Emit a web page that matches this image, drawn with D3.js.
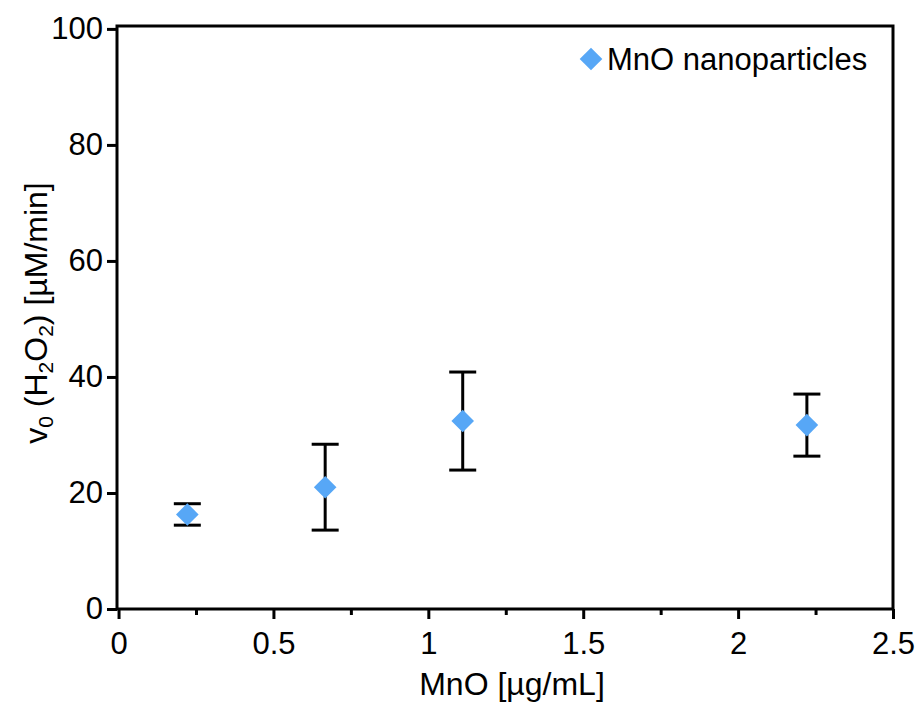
<!DOCTYPE html>
<html>
<head>
<meta charset="utf-8">
<script src="https://cdn.jsdelivr.net/npm/d3@7"></script>
<style>
  html, body { margin: 0; padding: 0; background: #fff; }
  svg { display: block; font-family: "Liberation Sans", Arial, sans-serif; }
</style>
</head>
<body>
<svg id="chart" width="920" height="704"></svg>
<script>
// MnO concentration (µg/mL) and initial H2O2 consumption rate (µM/min)
const concentrations = [0.222, 0.667, 1.111, 2.222];
const rates = [16.3, 21.0, 32.4, 31.7];
const rateErrors = [1.85, 7.4, 8.45, 5.35];
const xTicks = [0, 0.5, 1, 1.5, 2, 2.5];
const xMinorTicks = [0.25, 0.75, 1.25, 1.75, 2.25];
const yTicks = [0, 20, 40, 60, 80, 100];
const seriesName = "MnO nanoparticles";

const W = 920, H = 704;
const plot = { left: 117, right: 893, top: 26, bottom: 609 };
const markerColor = "#57a7f6";

const svg = d3.select("#chart");

const x = d3.scaleLinear().domain([-0.005, 2.5]).range([plot.left, plot.right]);
const y = d3.scaleLinear().domain([0, 100.5]).range([plot.bottom, plot.top]);

const points = concentrations.map((c, i) => ({ x: c, y: rates[i], e: rateErrors[i] }));

// minor x ticks
svg.append("g")
  .attr("transform", `translate(0,${plot.bottom})`)
  .call(d3.axisBottom(x).tickValues(xMinorTicks).tickSize(6).tickFormat(""))
  .call(g => g.select(".domain").remove())
  .call(g => g.selectAll("line").attr("stroke", "#000").attr("stroke-width", 3));

// major x axis
svg.append("g")
  .attr("transform", `translate(0,${plot.bottom})`)
  .call(d3.axisBottom(x).tickValues(xTicks).tickSize(10).tickPadding(13).tickFormat(d3.format("")))
  .call(g => g.select(".domain").remove())
  .call(g => g.selectAll("line").attr("stroke", "#000").attr("stroke-width", 3))
  .call(g => g.selectAll("text").attr("fill", "#000").attr("font-size", 31)
    .attr("font-family", "Liberation Sans, Arial, sans-serif"));

// y axis
svg.append("g")
  .attr("transform", `translate(${plot.left},0)`)
  .call(d3.axisLeft(y).tickValues(yTicks).tickSize(10).tickPadding(4))
  .call(g => g.select(".domain").remove())
  .call(g => g.selectAll("line").attr("stroke", "#000").attr("stroke-width", 3))
  .call(g => g.selectAll("text").attr("fill", "#000").attr("font-size", 31)
    .attr("font-family", "Liberation Sans, Arial, sans-serif"));

// plot frame
svg.append("rect")
  .attr("x", plot.left).attr("y", plot.top)
  .attr("width", plot.right - plot.left).attr("height", plot.bottom - plot.top)
  .attr("fill", "none").attr("stroke", "#000").attr("stroke-width", 3);

// error bars
const capHalf = 13.5;
const eb = svg.append("g").attr("stroke", "#000").attr("stroke-width", 3);
eb.selectAll("line.stem").data(points).join("line").attr("class", "stem")
  .attr("x1", d => x(d.x)).attr("x2", d => x(d.x))
  .attr("y1", d => y(d.y + d.e)).attr("y2", d => y(d.y - d.e));
eb.selectAll("line.capTop").data(points).join("line").attr("class", "capTop")
  .attr("x1", d => x(d.x) - capHalf).attr("x2", d => x(d.x) + capHalf)
  .attr("y1", d => y(d.y + d.e)).attr("y2", d => y(d.y + d.e));
eb.selectAll("line.capBot").data(points).join("line").attr("class", "capBot")
  .attr("x1", d => x(d.x) - capHalf).attr("x2", d => x(d.x) + capHalf)
  .attr("y1", d => y(d.y - d.e)).attr("y2", d => y(d.y - d.e));

// diamond markers
const diamond = d3.symbol().type(d3.symbolSquare).size(2 * 11.3 * 11.3);
svg.append("g").selectAll("path").data(points).join("path")
  .attr("d", diamond)
  .attr("transform", d => `translate(${x(d.x)},${y(d.y)}) rotate(45)`)
  .attr("fill", markerColor);

// legend
const legend = svg.append("g");
legend.append("path")
  .attr("d", diamond)
  .attr("transform", "translate(591,59) rotate(45)")
  .attr("fill", markerColor);
legend.append("text")
  .attr("x", 607).attr("y", 70)
  .attr("font-size", 31).attr("fill", "#000")
  .text(seriesName);

// x title
svg.append("text")
  .attr("x", 512).attr("y", 695)
  .attr("text-anchor", "middle")
  .attr("font-size", 32).attr("fill", "#000")
  .text("MnO [µg/mL]");

// y title with subscripts
const yt = svg.append("text")
  .attr("transform", "translate(47,313) rotate(-90)")
  .attr("text-anchor", "middle")
  .attr("font-size", 32).attr("fill", "#000");
yt.append("tspan").text("v");
yt.append("tspan").attr("font-size", 21).attr("dy", 6).text("0");
yt.append("tspan").attr("dy", -6).text(" (H");
yt.append("tspan").attr("font-size", 21).attr("dy", 6).text("2");
yt.append("tspan").attr("dy", -6).text("O");
yt.append("tspan").attr("font-size", 21).attr("dy", 6).text("2");
yt.append("tspan").attr("dy", -6).text(") [µM/min]");
</script>
</body>
</html>
